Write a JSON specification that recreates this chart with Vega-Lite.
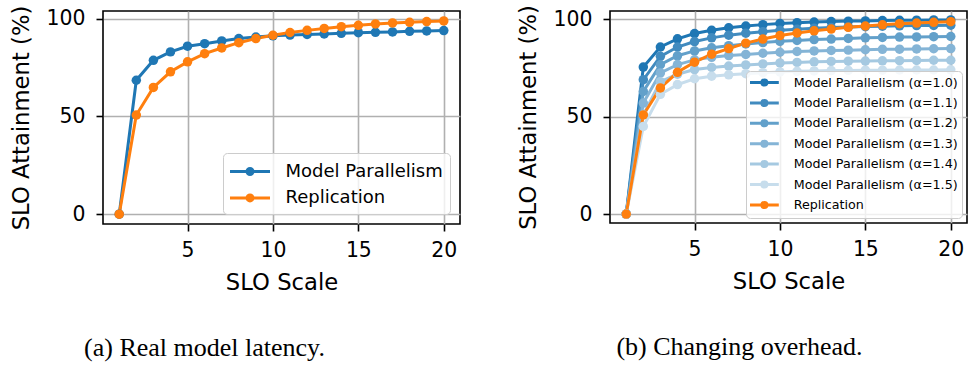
{
  "$schema": "https://vega.github.io/schema/vega-lite/v6.json",
  "background": "white",
  "padding": {"left": 9, "top": 3, "right": 1, "bottom": 0},
  "spacing": 55,
  "config": {
    "view": {"stroke": "black", "strokeWidth": 1.6},
    "axis": {
      "domain": false, "grid": true, "gridColor": "#b0b0b0", "gridWidth": 1.6,
      "tickColor": "black", "tickWidth": 1.6, "tickSize": 7,
      "labelFont": "DejaVu Sans", "labelFontSize": 20.4, "labelColor": "black",
      "labelFlush": false, "labelOverlap": false,
      "titleFont": "DejaVu Sans", "titleFontSize": 22.7, "titleFontWeight": "normal", "titleColor": "black"
    },
    "axisX": {"labelPadding": 9.5, "titlePadding": 11},
    "axisY": {"labelPadding": 11, "titlePadding": 13},
    "title": {"font": "Liberation Serif", "fontSize": 26, "fontWeight": "normal", "color": "black", "orient": "bottom", "anchor": "middle", "frame": "group"}
  },
  "datasets": {
    "real": [
      {"x": 1, "y": 0, "s": "Model Parallelism"}, {"x": 2, "y": 68.5, "s": "Model Parallelism"}, {"x": 3, "y": 78.7, "s": "Model Parallelism"}, {"x": 4, "y": 83.0, "s": "Model Parallelism"}, {"x": 5, "y": 85.9, "s": "Model Parallelism"},
      {"x": 6, "y": 87.2, "s": "Model Parallelism"}, {"x": 7, "y": 88.6, "s": "Model Parallelism"}, {"x": 8, "y": 89.8, "s": "Model Parallelism"}, {"x": 9, "y": 90.6, "s": "Model Parallelism"}, {"x": 10, "y": 91.2, "s": "Model Parallelism"},
      {"x": 11, "y": 91.6, "s": "Model Parallelism"}, {"x": 12, "y": 91.9, "s": "Model Parallelism"}, {"x": 13, "y": 92.2, "s": "Model Parallelism"}, {"x": 14, "y": 92.5, "s": "Model Parallelism"}, {"x": 15, "y": 92.8, "s": "Model Parallelism"},
      {"x": 16, "y": 93.0, "s": "Model Parallelism"}, {"x": 17, "y": 93.2, "s": "Model Parallelism"}, {"x": 18, "y": 93.5, "s": "Model Parallelism"}, {"x": 19, "y": 93.7, "s": "Model Parallelism"}, {"x": 20, "y": 93.9, "s": "Model Parallelism"},
      {"x": 1, "y": 0, "s": "Replication"}, {"x": 2, "y": 50.7, "s": "Replication"}, {"x": 3, "y": 64.8, "s": "Replication"}, {"x": 4, "y": 72.8, "s": "Replication"}, {"x": 5, "y": 77.9, "s": "Replication"},
      {"x": 6, "y": 82.1, "s": "Replication"}, {"x": 7, "y": 85.0, "s": "Replication"}, {"x": 8, "y": 87.7, "s": "Replication"}, {"x": 9, "y": 89.8, "s": "Replication"}, {"x": 10, "y": 91.5, "s": "Replication"},
      {"x": 11, "y": 92.9, "s": "Replication"}, {"x": 12, "y": 94.0, "s": "Replication"}, {"x": 13, "y": 95.0, "s": "Replication"}, {"x": 14, "y": 95.9, "s": "Replication"}, {"x": 15, "y": 96.6, "s": "Replication"},
      {"x": 16, "y": 97.3, "s": "Replication"}, {"x": 17, "y": 97.8, "s": "Replication"}, {"x": 18, "y": 98.1, "s": "Replication"}, {"x": 19, "y": 98.5, "s": "Replication"}, {"x": 20, "y": 98.8, "s": "Replication"}
    ],
    "overhead": [
      {"x": 1, "y": 0, "s": "Model Parallelism (α=1.0)"}, {"x": 2, "y": 75.5, "s": "Model Parallelism (α=1.0)"}, {"x": 3, "y": 85.8, "s": "Model Parallelism (α=1.0)"}, {"x": 4, "y": 90.0, "s": "Model Parallelism (α=1.0)"}, {"x": 5, "y": 92.7, "s": "Model Parallelism (α=1.0)"},
      {"x": 6, "y": 94.4, "s": "Model Parallelism (α=1.0)"}, {"x": 7, "y": 95.7, "s": "Model Parallelism (α=1.0)"}, {"x": 8, "y": 96.6, "s": "Model Parallelism (α=1.0)"}, {"x": 9, "y": 97.3, "s": "Model Parallelism (α=1.0)"}, {"x": 10, "y": 97.9, "s": "Model Parallelism (α=1.0)"},
      {"x": 11, "y": 98.3, "s": "Model Parallelism (α=1.0)"}, {"x": 12, "y": 98.6, "s": "Model Parallelism (α=1.0)"}, {"x": 13, "y": 98.9, "s": "Model Parallelism (α=1.0)"}, {"x": 14, "y": 99.1, "s": "Model Parallelism (α=1.0)"}, {"x": 15, "y": 99.2, "s": "Model Parallelism (α=1.0)"},
      {"x": 16, "y": 99.4, "s": "Model Parallelism (α=1.0)"}, {"x": 17, "y": 99.5, "s": "Model Parallelism (α=1.0)"}, {"x": 18, "y": 99.6, "s": "Model Parallelism (α=1.0)"}, {"x": 19, "y": 99.7, "s": "Model Parallelism (α=1.0)"}, {"x": 20, "y": 99.7, "s": "Model Parallelism (α=1.0)"},
      {"x": 1, "y": 0, "s": "Model Parallelism (α=1.1)"}, {"x": 2, "y": 69.0, "s": "Model Parallelism (α=1.1)"}, {"x": 3, "y": 81.0, "s": "Model Parallelism (α=1.1)"}, {"x": 4, "y": 85.8, "s": "Model Parallelism (α=1.1)"}, {"x": 5, "y": 88.6, "s": "Model Parallelism (α=1.1)"},
      {"x": 6, "y": 90.5, "s": "Model Parallelism (α=1.1)"}, {"x": 7, "y": 91.9, "s": "Model Parallelism (α=1.1)"}, {"x": 8, "y": 92.9, "s": "Model Parallelism (α=1.1)"}, {"x": 9, "y": 93.7, "s": "Model Parallelism (α=1.1)"}, {"x": 10, "y": 94.4, "s": "Model Parallelism (α=1.1)"},
      {"x": 11, "y": 94.9, "s": "Model Parallelism (α=1.1)"}, {"x": 12, "y": 95.4, "s": "Model Parallelism (α=1.1)"}, {"x": 13, "y": 95.8, "s": "Model Parallelism (α=1.1)"}, {"x": 14, "y": 96.1, "s": "Model Parallelism (α=1.1)"}, {"x": 15, "y": 96.3, "s": "Model Parallelism (α=1.1)"},
      {"x": 16, "y": 96.5, "s": "Model Parallelism (α=1.1)"}, {"x": 17, "y": 96.7, "s": "Model Parallelism (α=1.1)"}, {"x": 18, "y": 96.8, "s": "Model Parallelism (α=1.1)"}, {"x": 19, "y": 96.9, "s": "Model Parallelism (α=1.1)"}, {"x": 20, "y": 97.0, "s": "Model Parallelism (α=1.1)"},
      {"x": 1, "y": 0, "s": "Model Parallelism (α=1.2)"}, {"x": 2, "y": 63.0, "s": "Model Parallelism (α=1.2)"}, {"x": 3, "y": 76.7, "s": "Model Parallelism (α=1.2)"}, {"x": 4, "y": 81.3, "s": "Model Parallelism (α=1.2)"}, {"x": 5, "y": 83.8, "s": "Model Parallelism (α=1.2)"},
      {"x": 6, "y": 85.4, "s": "Model Parallelism (α=1.2)"}, {"x": 7, "y": 86.5, "s": "Model Parallelism (α=1.2)"}, {"x": 8, "y": 87.4, "s": "Model Parallelism (α=1.2)"}, {"x": 9, "y": 88.1, "s": "Model Parallelism (α=1.2)"}, {"x": 10, "y": 88.7, "s": "Model Parallelism (α=1.2)"},
      {"x": 11, "y": 89.2, "s": "Model Parallelism (α=1.2)"}, {"x": 12, "y": 89.6, "s": "Model Parallelism (α=1.2)"}, {"x": 13, "y": 89.9, "s": "Model Parallelism (α=1.2)"}, {"x": 14, "y": 90.2, "s": "Model Parallelism (α=1.2)"}, {"x": 15, "y": 90.5, "s": "Model Parallelism (α=1.2)"},
      {"x": 16, "y": 90.7, "s": "Model Parallelism (α=1.2)"}, {"x": 17, "y": 90.9, "s": "Model Parallelism (α=1.2)"}, {"x": 18, "y": 91.0, "s": "Model Parallelism (α=1.2)"}, {"x": 19, "y": 91.1, "s": "Model Parallelism (α=1.2)"}, {"x": 20, "y": 91.2, "s": "Model Parallelism (α=1.2)"},
      {"x": 1, "y": 0, "s": "Model Parallelism (α=1.3)"}, {"x": 2, "y": 57.0, "s": "Model Parallelism (α=1.3)"}, {"x": 3, "y": 72.5, "s": "Model Parallelism (α=1.3)"}, {"x": 4, "y": 76.8, "s": "Model Parallelism (α=1.3)"}, {"x": 5, "y": 79.2, "s": "Model Parallelism (α=1.3)"},
      {"x": 6, "y": 80.5, "s": "Model Parallelism (α=1.3)"}, {"x": 7, "y": 81.4, "s": "Model Parallelism (α=1.3)"}, {"x": 8, "y": 82.0, "s": "Model Parallelism (α=1.3)"}, {"x": 9, "y": 82.6, "s": "Model Parallelism (α=1.3)"}, {"x": 10, "y": 83.1, "s": "Model Parallelism (α=1.3)"},
      {"x": 11, "y": 83.5, "s": "Model Parallelism (α=1.3)"}, {"x": 12, "y": 83.8, "s": "Model Parallelism (α=1.3)"}, {"x": 13, "y": 84.0, "s": "Model Parallelism (α=1.3)"}, {"x": 14, "y": 84.2, "s": "Model Parallelism (α=1.3)"}, {"x": 15, "y": 84.4, "s": "Model Parallelism (α=1.3)"},
      {"x": 16, "y": 84.6, "s": "Model Parallelism (α=1.3)"}, {"x": 17, "y": 84.7, "s": "Model Parallelism (α=1.3)"}, {"x": 18, "y": 84.8, "s": "Model Parallelism (α=1.3)"}, {"x": 19, "y": 84.9, "s": "Model Parallelism (α=1.3)"}, {"x": 20, "y": 85.0, "s": "Model Parallelism (α=1.3)"},
      {"x": 1, "y": 0, "s": "Model Parallelism (α=1.4)"}, {"x": 2, "y": 51.0, "s": "Model Parallelism (α=1.4)"}, {"x": 3, "y": 68.0, "s": "Model Parallelism (α=1.4)"}, {"x": 4, "y": 71.8, "s": "Model Parallelism (α=1.4)"}, {"x": 5, "y": 74.2, "s": "Model Parallelism (α=1.4)"},
      {"x": 6, "y": 75.3, "s": "Model Parallelism (α=1.4)"}, {"x": 7, "y": 76.0, "s": "Model Parallelism (α=1.4)"}, {"x": 8, "y": 76.6, "s": "Model Parallelism (α=1.4)"}, {"x": 9, "y": 77.1, "s": "Model Parallelism (α=1.4)"}, {"x": 10, "y": 77.6, "s": "Model Parallelism (α=1.4)"},
      {"x": 11, "y": 77.9, "s": "Model Parallelism (α=1.4)"}, {"x": 12, "y": 78.2, "s": "Model Parallelism (α=1.4)"}, {"x": 13, "y": 78.4, "s": "Model Parallelism (α=1.4)"}, {"x": 14, "y": 78.5, "s": "Model Parallelism (α=1.4)"}, {"x": 15, "y": 78.6, "s": "Model Parallelism (α=1.4)"},
      {"x": 16, "y": 78.7, "s": "Model Parallelism (α=1.4)"}, {"x": 17, "y": 78.8, "s": "Model Parallelism (α=1.4)"}, {"x": 18, "y": 78.9, "s": "Model Parallelism (α=1.4)"}, {"x": 19, "y": 79.0, "s": "Model Parallelism (α=1.4)"}, {"x": 20, "y": 79.0, "s": "Model Parallelism (α=1.4)"},
      {"x": 1, "y": 0, "s": "Model Parallelism (α=1.5)"}, {"x": 2, "y": 45.0, "s": "Model Parallelism (α=1.5)"}, {"x": 3, "y": 61.5, "s": "Model Parallelism (α=1.5)"}, {"x": 4, "y": 66.5, "s": "Model Parallelism (α=1.5)"}, {"x": 5, "y": 69.5, "s": "Model Parallelism (α=1.5)"},
      {"x": 6, "y": 70.8, "s": "Model Parallelism (α=1.5)"}, {"x": 7, "y": 71.5, "s": "Model Parallelism (α=1.5)"}, {"x": 8, "y": 72.1, "s": "Model Parallelism (α=1.5)"}, {"x": 9, "y": 72.6, "s": "Model Parallelism (α=1.5)"}, {"x": 10, "y": 73.0, "s": "Model Parallelism (α=1.5)"},
      {"x": 11, "y": 73.3, "s": "Model Parallelism (α=1.5)"}, {"x": 12, "y": 73.5, "s": "Model Parallelism (α=1.5)"}, {"x": 13, "y": 73.7, "s": "Model Parallelism (α=1.5)"}, {"x": 14, "y": 73.8, "s": "Model Parallelism (α=1.5)"}, {"x": 15, "y": 73.9, "s": "Model Parallelism (α=1.5)"},
      {"x": 16, "y": 73.9, "s": "Model Parallelism (α=1.5)"}, {"x": 17, "y": 74.0, "s": "Model Parallelism (α=1.5)"}, {"x": 18, "y": 74.0, "s": "Model Parallelism (α=1.5)"}, {"x": 19, "y": 74.0, "s": "Model Parallelism (α=1.5)"}, {"x": 20, "y": 74.1, "s": "Model Parallelism (α=1.5)"},
      {"x": 1, "y": 0, "s": "Replication"}, {"x": 2, "y": 50.9, "s": "Replication"}, {"x": 3, "y": 64.8, "s": "Replication"}, {"x": 4, "y": 72.8, "s": "Replication"}, {"x": 5, "y": 78.0, "s": "Replication"},
      {"x": 6, "y": 82.1, "s": "Replication"}, {"x": 7, "y": 85.0, "s": "Replication"}, {"x": 8, "y": 87.8, "s": "Replication"}, {"x": 9, "y": 89.9, "s": "Replication"}, {"x": 10, "y": 91.7, "s": "Replication"},
      {"x": 11, "y": 93.0, "s": "Replication"}, {"x": 12, "y": 94.1, "s": "Replication"}, {"x": 13, "y": 95.0, "s": "Replication"}, {"x": 14, "y": 95.9, "s": "Replication"}, {"x": 15, "y": 96.6, "s": "Replication"},
      {"x": 16, "y": 97.2, "s": "Replication"}, {"x": 17, "y": 97.8, "s": "Replication"}, {"x": 18, "y": 98.1, "s": "Replication"}, {"x": 19, "y": 98.5, "s": "Replication"}, {"x": 20, "y": 98.8, "s": "Replication"}
    ]
  },
  "hconcat": [
    {
      "width": 357, "height": 213,
      "data": {"name": "real"},
      "title": {"text": "(a) Real model latency.", "dx": -77, "offset": 40},
      "encoding": {
        "x": {"field": "x", "type": "quantitative", "title": "SLO Scale", "scale": {"domain": [0.05, 20.95], "nice": false, "zero": false}, "axis": {"values": [5, 10, 15, 20], "format": "d"}},
        "y": {"field": "y", "type": "quantitative", "title": "SLO Attainment (%)", "scale": {"domain": [-5, 103.9], "nice": false, "zero": false}, "axis": {"values": [0, 50, 100], "format": "d"}}
      },
      "layer": [
        {
          "mark": {"type": "line", "strokeWidth": 3},
          "encoding": {
            "color": {"field": "s", "type": "nominal", "scale": {"domain": ["Model Parallelism", "Replication"], "range": ["#1f77b4", "#ff7f0e"]}}
          }
        },
        {
          "mark": {"type": "point", "filled": true, "size": 90, "opacity": 1},
          "encoding": {
            "color": {"field": "s", "type": "nominal", "scale": {"domain": ["Model Parallelism", "Replication"], "range": ["#1f77b4", "#ff7f0e"]},
              "legend": {"title": null, "orient": "bottom-right", "offset": 10, "labelFont": "DejaVu Sans", "labelColor": "black", "labelFontSize": 18, "labelLimit": 0,
                "symbolType": "M-2,0H2M-0.3,0A0.3,0.3 0 1,1 0.3,0A0.3,0.3 0 1,1 -0.3,0Z", "symbolSize": 400, "symbolStrokeWidth": 3, "symbolOffset": 8.5, "labelOffset": 24,
                "padding": 7, "rowPadding": 5.4, "fillColor": "rgba(255,255,255,0.8)", "strokeColor": "#cccccc", "cornerRadius": 4}}
          }
        }
      ]
    },
    {
      "width": 357, "height": 212,
      "data": {"name": "overhead"},
      "title": {"text": "(b) Changing overhead.", "dx": -49, "offset": 40},
      "encoding": {
        "x": {"field": "x", "type": "quantitative", "title": "SLO Scale", "scale": {"domain": [0.05, 20.95], "nice": false, "zero": false}, "axis": {"values": [5, 10, 15, 20], "format": "d"}},
        "y": {"field": "y", "type": "quantitative", "title": "SLO Attainment (%)", "scale": {"domain": [-4.6, 104.3], "nice": false, "zero": false}, "axis": {"values": [0, 50, 100], "format": "d"}}
      },
      "layer": [
        {
          "mark": {"type": "line", "strokeWidth": 3},
          "encoding": {
            "color": {"field": "s", "type": "nominal", "scale": {"domain": ["Model Parallelism (α=1.0)", "Model Parallelism (α=1.1)", "Model Parallelism (α=1.2)", "Model Parallelism (α=1.3)", "Model Parallelism (α=1.4)", "Model Parallelism (α=1.5)", "Replication"], "range": ["#1f77b4", "#418bbf", "#62a0ca", "#84b4d6", "#a5c9e1", "#c7ddec", "#ff7f0e"]}}
          }
        },
        {
          "mark": {"type": "point", "filled": true, "size": 90, "opacity": 1},
          "encoding": {
            "color": {"field": "s", "type": "nominal", "scale": {"domain": ["Model Parallelism (α=1.0)", "Model Parallelism (α=1.1)", "Model Parallelism (α=1.2)", "Model Parallelism (α=1.3)", "Model Parallelism (α=1.4)", "Model Parallelism (α=1.5)", "Replication"], "range": ["#1f77b4", "#418bbf", "#62a0ca", "#84b4d6", "#a5c9e1", "#c7ddec", "#ff7f0e"]},
              "legend": {"title": null, "orient": "bottom-right", "offset": 5, "labelFont": "DejaVu Sans", "labelColor": "black", "labelFontSize": 12.7, "labelLimit": 0,
                "symbolType": "M-2.4,0H2.4M-0.42,0A0.42,0.42 0 1,1 0.42,0A0.42,0.42 0 1,1 -0.42,0Z", "symbolSize": 144, "symbolStrokeWidth": 3, "symbolOffset": 6.9, "labelOffset": 21.8,
                "padding": 4, "rowPadding": 1.4, "fillColor": "rgba(255,255,255,0.8)", "strokeColor": "#cccccc", "cornerRadius": 4}}
          }
        }
      ]
    }
  ],
  "resolve": {"scale": {"color": "independent", "y": "independent", "x": "independent"}, "legend": {"color": "independent"}}
}
